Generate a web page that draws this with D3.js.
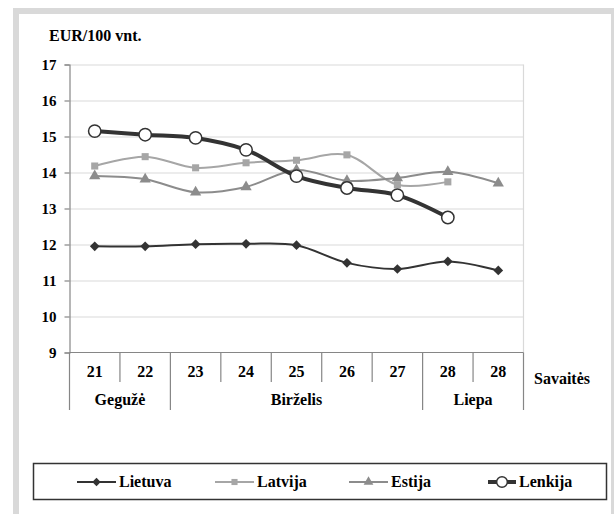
<!DOCTYPE html>
<html>
<head>
<meta charset="utf-8">
<script src="https://cdn.jsdelivr.net/npm/d3@7"></script>
<style>
  html, body { margin: 0; padding: 0; background: #fff; }
</style>
</head>
<body>
<svg id="chart" width="614" height="514"></svg>
<script>
// ---- data ----
const weeks = ["21", "22", "23", "24", "25", "26", "27", "28", "28"];
const months = ["Gegužė", "Birželis", "Liepa"];
const monthSpans = [2, 5, 2];
const yTicks = [9, 10, 11, 12, 13, 14, 15, 16, 17];
const seriesNames = ["Lietuva", "Latvija", "Estija", "Lenkija"];
const lietuva = [11.95, 11.95, 12.01, 12.02, 11.98, 11.49, 11.32, 11.53, 11.28];
const latvija = [14.18, 14.44, 14.13, 14.27, 14.34, 14.49, 13.66, 13.74, null];
const estija  = [13.90, 13.81, 13.45, 13.60, 14.07, 13.77, 13.85, 14.02, 13.70];
const lenkija = [15.15, 15.05, 14.96, 14.63, 13.90, 13.57, 13.37, 12.75, null];

const svg = d3.select("#chart").attr("font-family", "Liberation Serif");

// frame
svg.append("rect").attr("x", 16).attr("y", 11).attr("width", 598).attr("height", 540)
  .attr("fill", "#fff").attr("stroke", "#d9d9d9").attr("stroke-width", 6);

const X0 = 69.5, X1 = 523.5, YTOP = 64.5, YBOT = 352.5;
const x = d3.scaleBand().domain(d3.range(weeks.length)).range([X0, X1]).padding(0);
const y = d3.scaleLinear().domain([9, 17]).range([YBOT, YTOP]);

// gridlines
const grid = svg.append("g").attr("transform", `translate(${X0},0)`)
  .call(d3.axisLeft(y).tickValues(yTicks.slice(1)).tickSize(-(X1 - X0)).tickFormat(""));
grid.select(".domain").remove();
grid.selectAll("line").attr("stroke", "#d9d9d9").attr("stroke-width", 1.2);

// right plot edge
svg.append("line").attr("x1", X1).attr("x2", X1).attr("y1", YTOP).attr("y2", YBOT)
  .attr("stroke", "#d9d9d9").attr("stroke-width", 1.2);

// y axis
const yAx = svg.append("g").attr("transform", `translate(${X0},0)`)
  .call(d3.axisLeft(y).tickValues(yTicks).tickSize(5).tickPadding(8).tickFormat(d3.format("d")));
yAx.attr("font-family", null);
yAx.select(".domain").attr("stroke", "#868686").attr("stroke-width", 1.2);
yAx.selectAll("line").attr("stroke", "#868686").attr("stroke-width", 1.2);
yAx.selectAll("text").style("font-size", "15px");

// category axis lines
const axC = "#868686";
svg.append("line").attr("x1", X0).attr("x2", X1).attr("y1", YBOT).attr("y2", YBOT)
  .attr("stroke", axC).attr("stroke-width", 1.2);
const bounds = [0];
monthSpans.forEach(s => bounds.push(bounds[bounds.length - 1] + s));
for (let i = 0; i <= weeks.length; i++) {
  const bx = i < weeks.length ? x(i) : X1;
  const isGroup = bounds.includes(i);
  svg.append("line").attr("x1", bx).attr("x2", bx).attr("y1", YBOT)
    .attr("y2", isGroup ? 410 : 382).attr("stroke", axC).attr("stroke-width", 1.2);
}
// week labels
svg.append("g").selectAll("text").data(weeks).join("text")
  .attr("x", (d, i) => x(i) + x.bandwidth() / 2).attr("y", 377)
  .attr("text-anchor", "middle").style("font-size", "16px").text(d => d);
// month labels
svg.append("g").selectAll("text").data(months).join("text")
  .attr("x", (d, i) => (x(bounds[i]) + (bounds[i + 1] < weeks.length ? x(bounds[i + 1]) : X1)) / 2)
  .attr("y", 405).attr("text-anchor", "middle").style("font-size", "16px").text(d => d);
svg.append("text").attr("x", 534).attr("y", 384).style("font-size", "16px").text("Savaitės");

// title
svg.append("text").attr("x", 49).attr("y", 41).style("font-size", "16px").text("EUR/100 vnt.");

// series
const styles = [
  { data: lietuva, color: "#333333", width: 2, sym: d3.symbolDiamond2, size: 60, fill: "#333333", stroke: "none" },
  { data: latvija, color: "#a6a6a6", width: 2, sym: d3.symbolSquare, size: 50, fill: "#a6a6a6", stroke: "none" },
  { data: estija,  color: "#8c8c8c", width: 2, sym: d3.symbolTriangle, size: 55, fill: "#8c8c8c", stroke: "none" },
  { data: lenkija, color: "#333333", width: 4, sym: d3.symbolCircle, size: 120, fill: "#ffffff", stroke: "#333333" }
];
const line = d3.line()
  .defined(d => d != null)
  .x((d, i) => x(i) + x.bandwidth() / 2)
  .y(d => y(d))
  .curve(d3.curveCatmullRom.alpha(0.5));

styles.forEach(s => {
  svg.append("path").attr("d", line(s.data)).attr("fill", "none")
    .attr("stroke", s.color).attr("stroke-width", s.width).attr("stroke-linejoin", "round");
  svg.append("g").selectAll("path").data(s.data.map((v, i) => ({ v, i })).filter(d => d.v != null))
    .join("path")
    .attr("transform", d => `translate(${x(d.i) + x.bandwidth() / 2},${y(d.v)})`)
    .attr("d", d3.symbol(s.sym, s.size))
    .attr("fill", s.fill).attr("stroke", s.stroke).attr("stroke-width", 1.5);
});

// legend
svg.append("rect").attr("x", 33.5).attr("y", 463.5).attr("width", 573).attr("height", 36)
  .attr("fill", "#fff").attr("stroke", "#333").attr("stroke-width", 1.5);
const legX = [77, 215, 349, 488];
const legW = [39, 39, 39, 28];
styles.forEach((s, i) => {
  const g = svg.append("g");
  const x0 = legX[i], w = legW[i];
  g.append("line").attr("x1", x0).attr("x2", x0 + w).attr("y1", 482).attr("y2", 482)
    .attr("stroke", s.color).attr("stroke-width", s.width);
  g.append("path").attr("transform", `translate(${x0 + w / 2},482)`)
    .attr("d", d3.symbol(s.sym, s.size * 0.75)).attr("fill", s.fill).attr("stroke", s.stroke).attr("stroke-width", 1.5);
  g.append("text").attr("x", x0 + w + 3).attr("y", 487).style("font-size", "16px").text(seriesNames[i]);
});

// fonts
svg.selectAll("text")
  .attr("font-family", "Liberation Serif")
  .style("font-family", "'Liberation Serif'")
  .style("font-weight", "bold")
  .style("fill", "#000");
</script>
</body>
</html>
